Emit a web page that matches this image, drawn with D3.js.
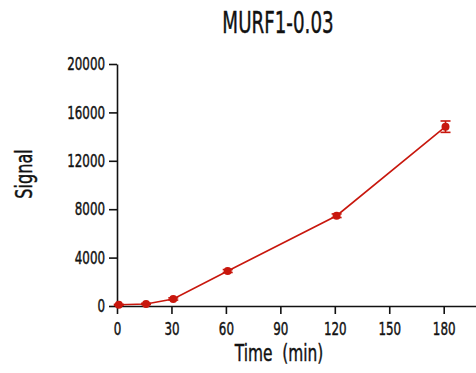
<!DOCTYPE html>
<html>
<head>
<meta charset="utf-8">
<script src="https://cdn.jsdelivr.net/npm/d3@7"></script>
<style>
  html, body { margin: 0; padding: 0; background: #fff; }
  svg text { font-family: "DejaVu Sans", sans-serif; fill: #111; stroke: #111; stroke-width: 0.45; white-space: pre; }
  .tick text { transform-box: fill-box; }
  .y .tick text { transform-origin: 100% 50%; transform: scaleX(0.66); }
  .x .tick text { transform-origin: 50% 50%; transform: scaleX(0.66); }
</style>
</head>
<body>
<svg id="chart" width="476" height="373"></svg>
<script>
// Time course of the MURF1-0.03 signal (mean ± error)
const times = [1, 16, 31, 61, 121, 181];
const signal = [100, 170, 580, 2890, 7460, 14820];
const errors = [40, 50, 90, 120, 150, 470];
const xTicks = [0, 30, 60, 90, 120, 150, 180];
const yTicks = [0, 4000, 8000, 12000, 16000, 20000];
const title = "MURF1-0.03";
const xTitle = "Time  (min)";
const yTitle = "Signal";

const color = "#c8170d";
const svg = d3.select("#chart");

const x = d3.scaleLinear().domain([0, 200]).range([117, 480]);
const y = d3.scaleLinear().domain([0, 20000]).range([306, 64]);

// Axes
const xAxis = svg.append("g")
  .attr("class", "x")
  .attr("transform", `translate(0,${y(0)})`)
  .call(d3.axisBottom(x).tickValues(xTicks).tickSize(8).tickPadding(8).tickSizeOuter(0));

const yAxis = svg.append("g")
  .attr("class", "y")
  .attr("transform", `translate(${x(0)},0)`)
  .call(d3.axisLeft(y).tickValues(yTicks).tickFormat(d3.format("d")).tickSize(8).tickPadding(4).tickSizeOuter(0));

[xAxis, yAxis].forEach(g => {
  g.select(".domain").attr("stroke", "#111").attr("stroke-width", 1.6);
  g.selectAll(".tick line").attr("stroke", "#111").attr("stroke-width", 1.6);
  g.selectAll(".tick text").attr("font-size", 18).attr("fill", "#111");
});

// Line
const line = d3.line().x((d, i) => x(times[i])).y(d => y(d));
svg.append("path")
  .datum(signal)
  .attr("fill", "none")
  .attr("stroke", color)
  .attr("stroke-width", 1.6)
  .attr("d", line);

// Error bars
const eb = svg.append("g").attr("stroke", color).attr("stroke-width", 1.6);
signal.forEach((v, i) => {
  const cx = x(times[i]);
  const y1 = y(v + errors[i]), y2 = y(v - errors[i]);
  eb.append("line").attr("x1", cx).attr("x2", cx).attr("y1", y1).attr("y2", y2);
  eb.append("line").attr("x1", cx - 5).attr("x2", cx + 5).attr("y1", y1).attr("y2", y1);
  eb.append("line").attr("x1", cx - 5).attr("x2", cx + 5).attr("y1", y2).attr("y2", y2);
});

// Markers
svg.append("g").selectAll("circle")
  .data(signal)
  .join("circle")
  .attr("cx", (d, i) => x(times[i]))
  .attr("cy", d => y(d))
  .attr("r", 4)
  .attr("fill", color);

// Titles
svg.append("text")
  .attr("transform", "translate(278,33) scale(0.62,1)")
  .attr("text-anchor", "middle")
  .attr("font-size", 29.5)
  .text(title);

svg.append("text")
  .attr("transform", "translate(279,361) scale(0.67,1)")
  .attr("text-anchor", "middle")
  .attr("font-size", 23)
  .text(xTitle);

svg.append("text")
  .attr("transform", "translate(32,174) rotate(-90) scale(0.7,1)")
  .attr("text-anchor", "middle")
  .attr("font-size", 23)
  .text(yTitle);
</script>
</body>
</html>
